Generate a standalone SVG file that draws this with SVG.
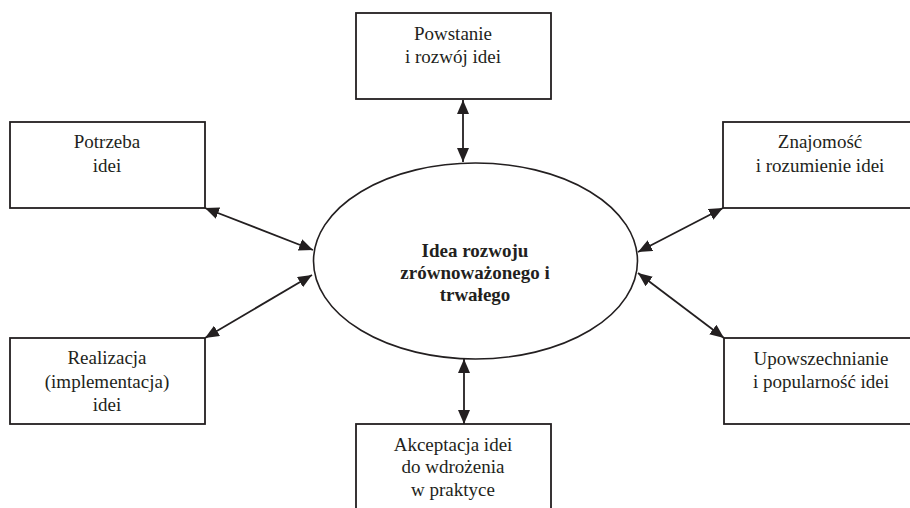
<svg xmlns="http://www.w3.org/2000/svg" width="910" height="508" viewBox="0 0 910 508">
<defs>
<style>
.box{fill:#fff;stroke:#231f20;stroke-width:1.8}
.ell{fill:#fff;stroke:#231f20;stroke-width:1.6}
.t{font-family:"Liberation Serif","Times New Roman",serif;font-size:19px;fill:#231f20;text-anchor:middle}
.b{font-weight:bold}
.c{stroke:#231f20;stroke-width:1.8;fill:none;marker-start:url(#ah);marker-end:url(#ah)}
</style>
<marker id="ah" viewBox="0 0 14 12" refX="14" refY="6" markerWidth="14" markerHeight="12" markerUnits="userSpaceOnUse" orient="auto-start-reverse">
<path d="M0,0 L14,6 L0,12 Z" fill="#231f20"/>
</marker>
</defs>
<rect width="910" height="508" fill="#fff"/>
<g id="connectors">
<line class="c" x1="463" y1="100" x2="463" y2="162"/>
<line class="c" x1="205" y1="208" x2="313" y2="250"/>
<line class="c" x1="723" y1="208" x2="638" y2="252"/>
<line class="c" x1="205" y1="338" x2="312" y2="275"/>
<line class="c" x1="724" y1="338" x2="638" y2="273"/>
<line class="c" x1="464" y1="359" x2="464" y2="424"/>
</g>
<g id="center">
<ellipse class="ell" cx="475.5" cy="261" rx="162" ry="98"/>
<text class="t b" x="475" y="257">Idea rozwoju</text>
<text class="t b" x="475" y="279">zrównoważonego i</text>
<text class="t b" x="475" y="301">trwałego</text>
</g>
<g id="powstanie">
<rect class="box" x="356" y="13" width="195" height="86"/>
<text class="t" x="453" y="40">Powstanie</text>
<text class="t" x="453" y="63">i rozwój idei</text>
</g>
<g id="potrzeba">
<rect class="box" x="10" y="122" width="195" height="86"/>
<text class="t" x="107" y="148">Potrzeba</text>
<text class="t" x="107" y="172">idei</text>
</g>
<g id="znajomosc">
<rect class="box" x="723" y="122" width="195" height="86"/>
<text class="t" x="820" y="148">Znajomość</text>
<text class="t" x="820" y="172">i rozumienie idei</text>
</g>
<g id="realizacja">
<rect class="box" x="10" y="338" width="195" height="86"/>
<text class="t" x="107" y="364">Realizacja</text>
<text class="t" x="107" y="388">(implementacja)</text>
<text class="t" x="107" y="411">idei</text>
</g>
<g id="upowszechnianie">
<rect class="box" x="724" y="338" width="195" height="86"/>
<text class="t" x="821" y="365">Upowszechnianie</text>
<text class="t" x="821" y="388">i popularność idei</text>
</g>
<g id="akceptacja">
<rect class="box" x="356" y="424" width="195" height="100"/>
<text class="t" x="453" y="451">Akceptacja idei</text>
<text class="t" x="453" y="473">do wdrożenia</text>
<text class="t" x="453" y="496">w praktyce</text>
</g>
</svg>
